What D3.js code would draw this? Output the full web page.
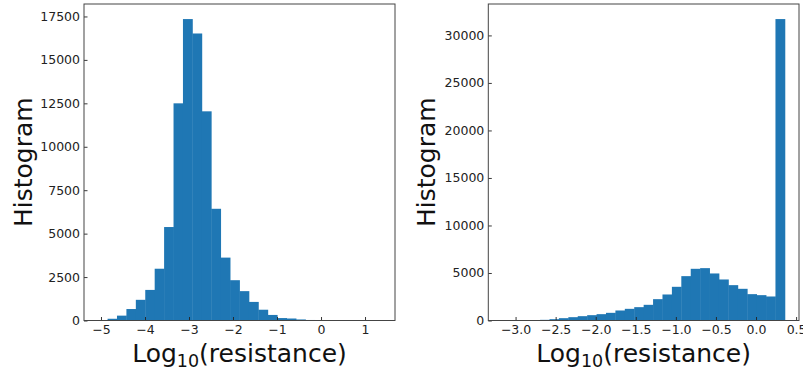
<!DOCTYPE html>
<html>
<head>
<meta charset="utf-8">
<script src="https://cdn.jsdelivr.net/npm/d3@7"></script>
<style>
  body { margin: 0; background: #fff; }
  text { font-family: "DejaVu Sans", sans-serif; }
</style>
</head>
<body>
<svg width="803" height="373"></svg>
<script>
// left histogram: 30 bins between the data min and max
const leftRange = [-5.065, 1.36];
const leftCounts = [3, 100, 280, 660, 1190, 1760, 2980, 5380, 12500, 17350,
    16520, 12040, 6430, 3620, 2320, 1690, 1070, 620, 320, 140,
    115, 60, 30, 12, 6, 3, 2, 1, 1, 1];
const leftXTicks = [-5, -4, -3, -2, -1, 0, 1];
const leftYTicks = [0, 2500, 5000, 7500, 10000, 12500, 15000, 17500];

// right histogram
const rightRange = [-3.164, 0.36];
const rightCounts = [2, 8, 20, 40, 70, 140, 245, 350, 456, 561,
    667, 807, 1053, 1228, 1404, 1650, 2246, 2738, 3545, 4668,
    5440, 5510, 4950, 4317, 3720, 3335, 2773, 2668, 2527, 31720];
const rightXTicks = [-3.0, -2.5, -2.0, -1.5, -1.0, -0.5, 0.0, 0.5];
const rightYTicks = [0, 5000, 10000, 15000, 20000, 25000, 30000];

const svg = d3.select("svg");
const minus = s => s.replace("-", "\u2212");

function drawHist(opts) {
    const { range, counts, xTicks, yTicks, xFmt, box, labelX } = opts;
    const n = counts.length;
    const binW = (range[1] - range[0]) / n;
    const bins = counts.map((c, i) => ({ x0: range[0] + i * binW, x1: range[0] + (i + 1) * binW, c: c }));

    const pad = (range[1] - range[0]) * 0.05;
    const x = d3.scaleLinear().domain([range[0] - pad, range[1] + pad]).range([box.left, box.right]);
    const y = d3.scaleLinear().domain([0, d3.max(counts) * 1.05]).range([box.bottom, box.top]);

    const g = svg.append("g");

    g.selectAll("rect.bar")
        .data(bins)
        .enter().append("rect")
        .attr("class", "bar")
        .attr("x", d => x(d.x0))
        .attr("width", d => x(d.x1) - x(d.x0) + 0.4)
        .attr("y", d => y(d.c))
        .attr("height", d => y(0) - y(d.c))
        .attr("fill", "#1f77b4");

    // axes, ticks pointing inwards
    const xAxis = d3.axisBottom(x).tickValues(xTicks).tickFormat(d => minus(xFmt(d)))
        .tickSizeInner(-3.5).tickSizeOuter(0).tickPadding(5);
    const yAxis = d3.axisLeft(y).tickValues(yTicks).tickFormat(d => String(d))
        .tickSizeInner(-3.5).tickSizeOuter(0).tickPadding(4);

    const gx = g.append("g").attr("transform", `translate(0,${box.bottom})`).call(xAxis);
    const gy = g.append("g").attr("transform", `translate(${box.left},0)`).call(yAxis);
    [gx, gy].forEach(a => {
        a.select(".domain").remove();
        a.selectAll("line").attr("stroke", "#222").attr("stroke-width", 0.9);
        a.selectAll("text").attr("fill", "#222").attr("font-size", 12.5)
            .attr("font-family", "DejaVu Sans");
    });

    // frame
    g.append("rect")
        .attr("x", box.left).attr("y", box.top)
        .attr("width", box.right - box.left).attr("height", box.bottom - box.top)
        .attr("fill", "none").attr("stroke", "#444").attr("stroke-width", 1);

    // axis titles
    const xl = g.append("text")
        .attr("x", (box.left + box.right) / 2)
        .attr("y", 362)
        .attr("text-anchor", "middle")
        .attr("font-size", 25)
        .attr("fill", "#111");
    xl.append("tspan").text("Log");
    xl.append("tspan").text("10").attr("font-size", 17.5).attr("dy", 5);
    xl.append("tspan").text("(resistance)").attr("dy", -5);

    g.append("text")
        .attr("transform", `translate(${labelX},${(box.top + box.bottom) / 2}) rotate(-90)`)
        .attr("text-anchor", "middle")
        .attr("font-size", 25)
        .attr("fill", "#111")
        .text("Histogram");
}

drawHist({
    range: leftRange, counts: leftCounts, xTicks: leftXTicks, yTicks: leftYTicks,
    xFmt: d3.format("d"),
    box: { left: 84, right: 395, top: 4, bottom: 320.5 },
    labelX: 32
});

drawHist({
    range: rightRange, counts: rightCounts, xTicks: rightXTicks, yTicks: rightYTicks,
    xFmt: d3.format(".1f"),
    box: { left: 488.3, right: 799, top: 4, bottom: 320.5 },
    labelX: 435
});
</script>
</body>
</html>
